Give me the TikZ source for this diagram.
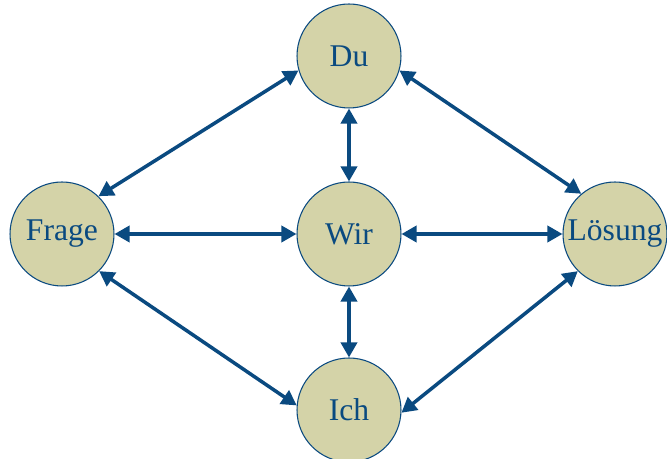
\documentclass[tikz,border=0pt]{standalone}
\usepackage{fontspec}
\setmainfont{Liberation Serif}
\usepackage{xcolor}
\usetikzlibrary{arrows.meta}

\definecolor{kreisfill}{RGB}{212,211,168}
\definecolor{dunkelblau}{RGB}{10,74,128}

\begin{document}
\begin{tikzpicture}[x=0.02cm,y=0.02cm,
    punkt/.style={circle,draw=dunkelblau,line width=0.6pt,fill=kreisfill,
        minimum size=2.08cm,inner sep=0pt,text=dunkelblau,
        font=\fontsize{18}{20}\selectfont},
    pfeil/.style={{Triangle[length=0.3cm,width=0.32cm]}-{Triangle[length=0.3cm,width=0.32cm]},
        draw=dunkelblau,line width=2pt}]
    \useasboundingbox (0,0) rectangle (667,459);

    \node (du) at (349,403) [punkt] {Du};
    \node (wir) at (349,225) [punkt] {Wir};
    \node (ich) at (349,49) [punkt] {Ich};
    \node (frage) at (62,225) [punkt] {Frage};
    \node (loesung) at (615,225) [punkt] {Lösung};

    \draw[pfeil] (du) -- (wir);
    \draw[pfeil] (wir) -- (ich);
    \draw[pfeil] (frage) -- (wir);
    \draw[pfeil] (wir) -- (loesung);
    \draw[pfeil] (du.-164) -- (frage.46);
    \draw[pfeil] (du.-16) -- (loesung.130);
    \draw[pfeil] (frage.-45) -- (ich.175);
    \draw[pfeil] (ich.-3) -- (loesung.-135);
\end{tikzpicture}
\end{document}
